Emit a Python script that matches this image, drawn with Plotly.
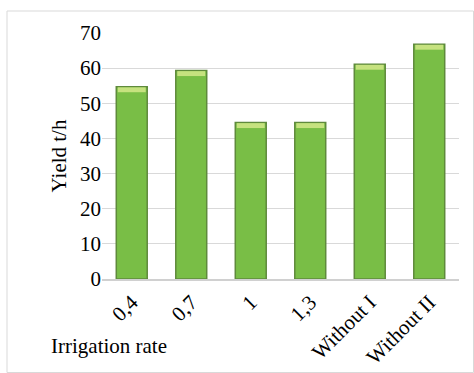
import plotly.graph_objects as go

# Yield by irrigation rate
categories = ["0,4", "0,7", "1", "1,3", "Without I", "Without II"]
yield_t_h = [54.7, 59.3, 44.5, 44.5, 61.1, 66.8]
y_ticks = [0, 10, 20, 30, 40, 50, 60, 70]

W, H = 474, 373
L, R, T, B = 102, 15, 33, 94
pw, ph = W - L - R, H - T - B

font = "Liberation Serif, Times New Roman, serif"
fsize = 21
bevel = 1.4  # height of the light top bevel, in data units

fig = go.Figure()
fig.add_trace(go.Bar(
    x=categories, y=yield_t_h,
    marker=dict(color="#79be46", line=dict(color="#5f8a3c", width=1.5)),
    hoverinfo="x+y",
))
# light bevel along the top of each bar
fig.add_trace(go.Bar(
    x=categories,
    y=[bevel] * len(yield_t_h),
    base=[v - bevel - 0.15 for v in yield_t_h],
    width=0.47,
    marker=dict(color="#c6e27f", line=dict(width=0)),
    hoverinfo="skip",
))

fig.update_layout(
    width=W, height=H,
    margin=dict(l=L, r=R, t=T, b=B),
    paper_bgcolor="white", plot_bgcolor="white",
    barmode="overlay", bargap=0.48,
    showlegend=False,
    font=dict(family=font, size=fsize, color="#000000"),
)
fig.update_xaxes(
    type="category", range=[-0.5, 5.5], automargin=False,
    tickangle=-45, tickfont=dict(family=font, size=fsize, color="#000000"),
    showgrid=False, showline=True, linecolor="#d0d0d0", linewidth=1.5,
    ticks="outside", ticklen=1, tickcolor="rgba(0,0,0,0)",
)
fig.update_yaxes(
    range=[0, 70], tickvals=y_ticks, automargin=False,
    tickfont=dict(family=font, size=fsize, color="#000000"),
    showgrid=True, gridcolor="#d9d9d9", gridwidth=1,
    showline=False, zeroline=False, ticks="", ticklen=0,
    title=dict(text="Yield t/h", font=dict(family=font, size=fsize), standoff=7),
)

# outer chart frame
fig.add_shape(type="rect", xref="paper", yref="paper",
              x0=(7 - L) / pw, x1=(473.5 - L) / pw,
              y0=(H - B - 372.5) / ph, y1=(H - B - 11) / ph,
              line=dict(color="#d9d9d9", width=1), layer="below")

fig.add_annotation(text="Irrigation rate", xref="paper", yref="paper",
                   x=(49 - L) / pw, y=(H - B - 346) / ph,
                   xanchor="left", yanchor="middle", showarrow=False,
                   font=dict(family=font, size=fsize, color="#000000"))

fig.write_html("out.html")
